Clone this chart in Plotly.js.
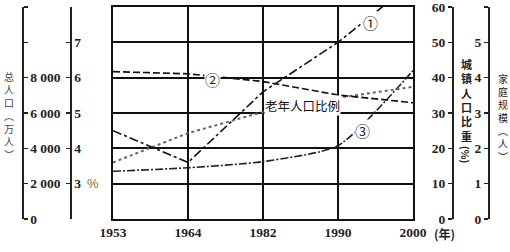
<!DOCTYPE html>
<html><head><meta charset="utf-8">
<script src="https://cdn.plot.ly/plotly-3.0.1.min.js"></script>
<style>html,body{margin:0;padding:0;background:#fff}#c{width:510px;height:252px}</style>
</head><body><div id="c"></div>
<script>
const years = ['1953','1964','1982','1990','2000'];
const urbanShare = [25, 16, 36, 50, 67];          // ① 城镇人口比重 (%)
const familySize = [4.17, 4.11, 3.89, 3.51, 3.29]; // ② 家庭规模 (人)
const totalPop = [2700, 2900, 3250, 4150, 8400];   // ③ 总人口 (万人)
const elderlyPct = [3.6, 4.43, 5.03, 5.43, 5.74];  // 老年人口比例 (%)
const popTicks = [0, 2000, 4000, 6000, 8000, 10000, 12000];
const popTickText = ['0', '2 000', '4 000', '6 000', '8 000', '', ''];
const pctTicks = [2, 3, 4, 5, 6, 7, 8];
const pctTickText = ['', '3', '4', '5', '6', '7', ''];
const urbanTicks = [0, 10, 20, 30, 40, 50, 60];
const famTicks = [0, 1, 2, 3, 4, 5, 6];
const famTickText = ['0', '1', '2', '3', '4', '5', ''];

const W = 510, H = 252, TOP = 7, BOT = 219;
const px = x => x / W;
const py = y => (BOT - y) / (BOT - TOP);

const numFont = {family: 'Liberation Serif, serif', size: 13.5, color: '#222', weight: 700};
const cjk = 'Noto Sans CJK SC';

const traces = [
  {x: years, y: urbanShare, yaxis: 'y4', mode: 'lines', line: {color: '#111', width: 1.6, dash: 'dashdot'}},
  {x: years, y: familySize, yaxis: 'y5', mode: 'lines', line: {color: '#111', width: 1.7, dash: '7px,3px'}},
  {x: years, y: totalPop, yaxis: 'y2', mode: 'lines', line: {color: '#222', width: 1.6, dash: '8px,2px,2px,2px', shape: 'spline', smoothing: 0.6}},
  {x: years, y: elderlyPct, yaxis: 'y3', mode: 'lines', line: {color: '#666', width: 2, dash: 'dot'}},
  {x: years, y: [null, null, null, null, null], yaxis: 'y', mode: 'lines', hoverinfo: 'skip'}
];

const vert = s => Array.from(s).join('<br>');

function note(text, xref, x, y, font, extra) {
  return Object.assign({text: text, xref: xref, yref: 'paper', x: x, y: y, showarrow: false,
    xanchor: 'center', yanchor: 'middle', font: font}, extra || {});
}

const annotations = [
  note(vert('总人口︵万人︶'), 'paper', px(9), py(116), {family: cjk, size: 10, color: '#444'}),
  note(vert('城镇人口比重'), 'paper', px(466), py(100), {family: cjk, size: 11, color: '#222', weight: 700}),
  note('(%)', 'paper', px(466), py(154), {family: cjk, size: 10, color: '#222', weight: 700}, {textangle: 90}),
  note(vert('家庭规模︵人︶'), 'paper', px(503), py(117), {family: cjk, size: 10, color: '#222'}),
  note('%', 'paper', px(93), py(183), {family: 'Liberation Sans', size: 13, color: '#8a6d2f'}),
  note('(年)', 'paper', px(444), py(234), {family: cjk, size: 12, color: '#222', weight: 700}),
  note('老年人口比例', 'x', 2.53, py(106), {family: cjk, size: 12.5, color: '#111'}, {bgcolor: '#fff', borderpad: 0}),
  note('①', 'x', 3.43, py(22), {family: cjk, size: 15, color: '#222'}, {bgcolor: '#fff', borderpad: 0}),
  note('②', 'x', 1.33, py(79), {family: cjk, size: 15, color: '#222'}, {bgcolor: '#fff', borderpad: 0}),
  note('③', 'x', 3.32, py(130), {family: cjk, size: 15, color: '#222'}, {bgcolor: '#fff', borderpad: 0})
];

const sideAxis = {overlaying: 'y', anchor: 'free', showgrid: false, zeroline: false, showline: true,
  linecolor: '#222', linewidth: 1.5, tickcolor: '#222', tickwidth: 1.5, ticklen: 4, tickfont: numFont,
  ticklabeloverflow: 'allow', fixedrange: true};

const layout = {
  width: W, height: H,
  margin: {l: 0, r: 0, t: TOP, b: H - BOT, pad: 0},
  paper_bgcolor: '#fff', plot_bgcolor: '#fff', showlegend: false,
  xaxis: {type: 'category', domain: [px(113), px(413)], range: [0, 4], showgrid: true, gridcolor: '#111', gridwidth: 2,
    showline: true, linecolor: '#111', linewidth: 2, mirror: true, ticks: '', tickfont: numFont, zeroline: false,
    ticklabeloverflow: 'allow'},
  yaxis: {range: [0, 60], tickvals: urbanTicks, showgrid: true, gridcolor: '#111', gridwidth: 2, showticklabels: false,
    showline: true, linecolor: '#111', linewidth: 2, mirror: true, ticks: '', zeroline: false},
  yaxis2: Object.assign({}, sideAxis, {side: 'right', position: px(22), range: [0, 12000], tickvals: popTicks, ticktext: popTickText, ticks: 'outside'}),
  yaxis3: Object.assign({}, sideAxis, {side: 'right', position: px(70), range: [2, 8], tickvals: pctTicks, ticktext: pctTickText, ticks: 'inside'}),
  yaxis4: Object.assign({}, sideAxis, {side: 'left', position: px(452), range: [0, 60], tickvals: urbanTicks, ticks: 'outside'}),
  yaxis5: Object.assign({}, sideAxis, {side: 'left', position: px(488), range: [0, 6], tickvals: famTicks, ticktext: famTickText, ticks: 'outside'}),
  annotations: annotations
};

Plotly.newPlot('c', traces, layout, {staticPlot: true, displayModeBar: false});
</script></body></html>
